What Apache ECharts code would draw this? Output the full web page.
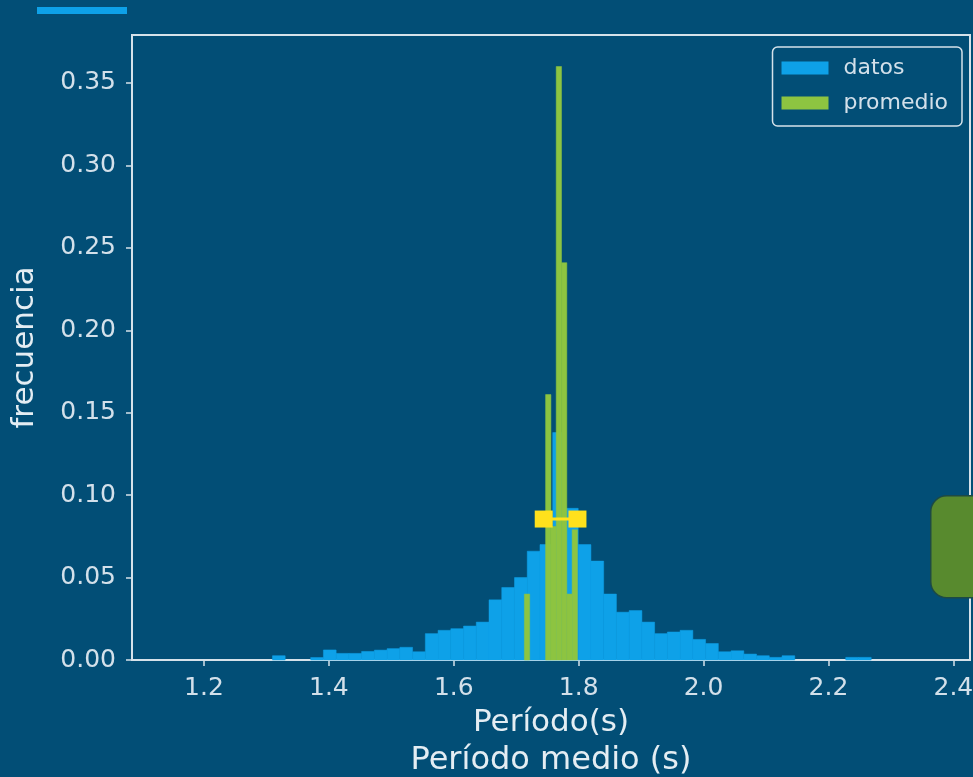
<!DOCTYPE html>
<html>
<head>
<meta charset="utf-8">
<script src="https://cdn.jsdelivr.net/npm/echarts@6/dist/echarts.min.js"></script>
<style>
  html, body { margin: 0; padding: 0; background: #024e76; }
  #chart { width: 973px; height: 777px; }
</style>
</head>
<body>
<div id="chart"></div>
<script>
// histogram "datos": bin edges (s) and frequency per bin
const datosEdges = [1.3096, 1.3300, 1.3504, 1.3708, 1.3912, 1.4116, 1.4320, 1.4524, 1.4728, 1.4932,
  1.5136, 1.5340, 1.5544, 1.5748, 1.5952, 1.6156, 1.6360, 1.6564, 1.6768, 1.6972,
  1.7176, 1.7380, 1.7584, 1.7788, 1.7992, 1.8196, 1.8400, 1.8604, 1.8808, 1.9012,
  1.9216, 1.9420, 1.9624, 1.9828, 2.0032, 2.0236, 2.0440, 2.0644, 2.0848, 2.1052,
  2.1256, 2.1460, 2.1664, 2.1868, 2.2072, 2.2276, 2.2480, 2.2684];
const datosFreq = [0.0026, 0, 0, 0.0015, 0.0061, 0.0040, 0.0040, 0.0052, 0.0060, 0.0069,
  0.0077, 0.0050, 0.0160, 0.0180, 0.0190, 0.0206, 0.0230, 0.0365, 0.0440, 0.0500,
  0.0660, 0.0700, 0.1380, 0.0920, 0.0700, 0.0600, 0.0400, 0.0290, 0.0300, 0.0230,
  0.0160, 0.0170, 0.0180, 0.0125, 0.0100, 0.0050, 0.0056, 0.0036, 0.0026, 0.0016,
  0.0026, 0, 0, 0, 0, 0.0016, 0.0016];

// histogram "promedio"
const promedioEdges = [1.7130, 1.7215, 1.7300, 1.7385, 1.7470, 1.7555, 1.7640, 1.7725, 1.7810, 1.7895, 1.7980];
const promedioFreq = [0.040, 0, 0, 0, 0.161, 0.081, 0.360, 0.241, 0.040, 0.079];

// mean with error bar
const mediaX = [1.771];
const mediaErr = [0.027];
const mediaY = [0.0855];

const xTicks = [1.2, 1.4, 1.6, 1.8, 2.0, 2.2, 2.4];
const yTicks = [0, 0.05, 0.10, 0.15, 0.20, 0.25, 0.30, 0.35];

const bg = '#024e76';
const txt = '#d3e0ea';
const frame = '#d6e2ea';

function toBins(edges, freq) {
  return freq.map((f, i) => [edges[i], edges[i + 1], f]);
}

function histItem(params, api) {
  if (!api.value(2)) return null;
  const p0 = api.coord([api.value(0), api.value(2)]);
  const p1 = api.coord([api.value(1), 0]);
  const c = api.visual('color');
  return {
    type: 'rect',
    shape: { x: p0[0], y: p0[1], width: p1[0] - p0[0], height: p1[1] - p0[1] },
    style: { fill: c, stroke: c, lineWidth: 0.5 }
  };
}

function errItem(params, api) {
  const x = api.value(0), y = api.value(1), e = api.value(2);
  const a = api.coord([x - e, y]);
  const b = api.coord([x + e, y]);
  const w = 18, h = 17;
  const col = '#ffe11c';
  return {
    type: 'group',
    children: [
      { type: 'line', shape: { x1: a[0], y1: a[1], x2: b[0], y2: b[1] }, style: { stroke: col, lineWidth: 3 } },
      { type: 'rect', shape: { x: a[0] - w / 2, y: a[1] - h / 2, width: w, height: h }, style: { fill: col } },
      { type: 'rect', shape: { x: b[0] - w / 2, y: b[1] - h / 2, width: w, height: h }, style: { fill: col } }
    ]
  };
}

let myChart = echarts.init(document.getElementById('chart'));
let option = {
  backgroundColor: bg,
  animation: false,
  textStyle: { fontFamily: 'DejaVu Sans' },
  grid: {
    left: 132, right: 3, top: 35, bottom: 117,
    show: true, borderColor: frame, borderWidth: 2,
    containLabel: false, outerBoundsMode: 'none'
  },
  legend: {
    orient: 'vertical',
    right: 11, top: 47,
    padding: [9, 14, 11, 9],
    itemWidth: 47, itemHeight: 13, itemGap: 11,
    borderColor: frame, borderWidth: 1.5, borderRadius: 5,
    textStyle: { color: txt, fontSize: 22, lineHeight: 24, padding: [0, 0, 0, 10], fontFamily: 'DejaVu Sans' },
    data: [{ name: 'datos', icon: 'rect' }, { name: 'promedio', icon: 'rect' }]
  },
  xAxis: {
    type: 'value',
    min: 1.0847, max: 2.4266,
    name: '{a|Período(s)}\n{b|Período medio (s)}',
    nameLocation: 'middle',
    nameGap: 44,
    nameTextStyle: {
      color: '#e4edf3',
      rich: {
        a: { fontSize: 31, lineHeight: 38, color: '#e4edf3', fontFamily: 'DejaVu Sans' },
        b: { fontSize: 32, lineHeight: 38, color: '#e4edf3', fontFamily: 'DejaVu Sans' }
      }
    },
    splitLine: { show: false },
    axisLine: { show: true, onZero: false, lineStyle: { color: frame, width: 2 } },
    axisTick: { show: true, length: 6, customValues: xTicks, lineStyle: { color: frame, width: 1.5 } },
    axisLabel: {
      customValues: xTicks, color: txt, fontSize: 25, margin: 16,
      formatter: v => v.toFixed(1)
    }
  },
  yAxis: {
    type: 'value',
    min: 0, max: 0.3791,
    name: 'frecuencia',
    nameLocation: 'middle',
    nameGap: 92,
    nameTextStyle: { color: '#e4edf3', fontSize: 31 },
    splitLine: { show: false },
    axisLine: { show: true, lineStyle: { color: frame, width: 2 } },
    axisTick: { show: true, length: 6, customValues: yTicks, lineStyle: { color: frame, width: 1.5 } },
    axisLabel: {
      customValues: yTicks, color: txt, fontSize: 25, margin: 16,
      formatter: v => v.toFixed(2)
    }
  },
  series: [
    {
      name: 'datos',
      type: 'custom',
      renderItem: histItem,
      itemStyle: { color: '#0ea1e8' },
      encode: { x: [0, 1], y: 2 },
      data: toBins(datosEdges, datosFreq),
      z: 2
    },
    {
      name: 'promedio',
      type: 'custom',
      renderItem: histItem,
      itemStyle: { color: '#8dc441' },
      encode: { x: [0, 1], y: 2 },
      data: toBins(promedioEdges, promedioFreq),
      z: 3
    },
    {
      name: 'error',
      type: 'custom',
      renderItem: errItem,
      encode: { x: 0, y: 1 },
      data: mediaX.map((m, i) => [m, mediaY[i], mediaErr[i]]),
      z: 4
    }
  ],
  graphic: [
    { type: 'rect', left: 37, top: 7, shape: { width: 90, height: 7 }, style: { fill: '#0ea1e8' } },
    {
      type: 'rect', left: 930, top: 495, z: 100,
      shape: { width: 70, height: 102, r: 16 },
      style: { fill: '#588a2e', stroke: '#1d4a45', lineWidth: 1.5 }
    }
  ]
};
myChart.setOption(option, true);

window.addEventListener('resize', () => {
  myChart.resize();
});
</script>
</body>
</html>
